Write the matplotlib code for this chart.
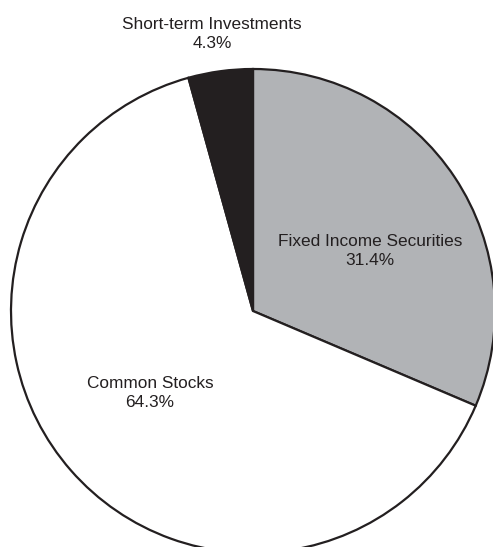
import matplotlib
matplotlib.use('Agg')
import matplotlib.pyplot as plt

labels = ['Fixed Income Securities', 'Common Stocks', 'Short-term Investments']
shares = [31.4, 64.3, 4.3]
colors = ['#b1b3b6', '#ffffff', '#231f20']

plt.rcParams['font.family'] = ['Liberation Sans', 'DejaVu Sans']

fig = plt.figure(figsize=(4.93, 5.47), dpi=100)
ax = fig.add_axes([0, 0, 1, 1])

ax.pie(shares, colors=colors, startangle=90, counterclock=False,
       center=(253, 236), radius=242,
       wedgeprops=dict(edgecolor='#231f20', linewidth=1.6))

# pie() resets the view, so fix the pixel-like coordinates afterwards
ax.set_xlim(0, 493)
ax.set_ylim(0, 547)
ax.set_aspect('equal')
ax.axis('off')

# labels sit inside the larger slices, the small slice gets its label above the pie
text_pos = [(370, 296), (150, 154), (212, 513)]
for lab, val, (x, y) in zip(labels, shares, text_pos):
    ax.text(x, y, f'{lab}\n{val}%', ha='center', va='center',
            fontsize=12.4, color='#231f20', linespacing=1.3)

fig.savefig('out.png', dpi=100)
